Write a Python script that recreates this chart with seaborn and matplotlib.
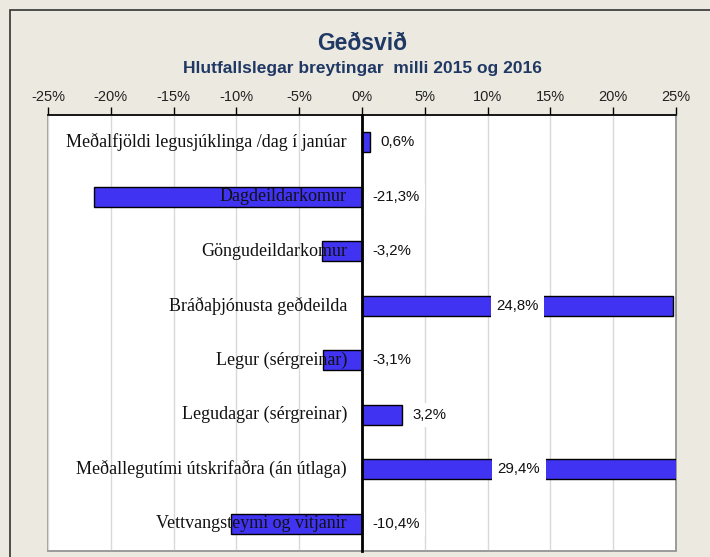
import matplotlib
matplotlib.use("Agg")
import matplotlib.pyplot as plt
from matplotlib.patches import Rectangle
import seaborn as sns
import pandas as pd

# Data: relative change 2015 -> 2016, percent
categories = [
    "Meðalfjöldi legusjúklinga /dag í janúar",
    "Dagdeildarkomur",
    "Göngudeildarkomur",
    "Bráðaþjónusta geðdeilda",
    "Legur (sérgreinar)",
    "Legudagar (sérgreinar)",
    "Meðallegutími útskrifaðra (án útlaga)",
    "Vettvangsteymi og vitjanir",
]
values = [0.6, -21.3, -3.2, 24.8, -3.1, 3.2, 29.4, -10.4]
x_ticks = [-25, -20, -15, -10, -5, 0, 5, 10, 15, 20, 25]
x_tick_labels = [f"{t}%" for t in x_ticks]

title = "Geðsvið"
subtitle = "Hlutfallslegar breytingar  milli 2015 og 2016"

df = pd.DataFrame({"flokkur": categories, "breyting": values})

sns.set_style("white")
plt.rcParams["font.family"] = ["Liberation Sans", "DejaVu Sans"]

BG = "#ECE9E0"
BAR = "#4033F2"
NAVY = "#1F3864"

fig = plt.figure(figsize=(7.10, 5.57), dpi=100, facecolor=BG)
ax = fig.add_axes([48 / 710, 1 - 551 / 557, (676 - 48) / 710, (551 - 115) / 557])
ax.set_facecolor("white")

sns.barplot(data=df, x="breyting", y="flokkur", orient="h", color=BAR,
            saturation=1, width=0.37, edgecolor="black", linewidth=1.0,
            ax=ax, zorder=3)

ax.set_xlim(-25, 25)
ax.set_ylim(len(categories) - 0.5, -0.5)
ax.set_xlabel("")
ax.set_ylabel("")

# top axis with percent ticks
ax.xaxis.tick_top()
ax.set_xticks(x_ticks)
ax.set_xticklabels(x_tick_labels, fontsize=10.5, color="#222222")
ax.tick_params(axis="x", direction="out", length=6, width=1, color="black", pad=2)
for t in x_ticks:
    ax.axvline(t, color="#D9D9D9", lw=1, zorder=1)

# vertical zero axis with ticks between categories
ax.spines["left"].set_position(("data", 0))
ax.spines["left"].set_color("black")
ax.spines["left"].set_linewidth(2)
ax.spines["left"].set_zorder(5)
bounds = [i - 0.5 for i in range(len(categories) + 1)]
ax.set_yticks(bounds)
ax.set_yticklabels([""] * len(bounds))
ax.tick_params(axis="y", direction="out", length=5, width=2, color="black")

ax.spines["top"].set_color("black")
ax.spines["top"].set_linewidth(1.2)
for s in ("right", "bottom"):
    ax.spines[s].set_color("#9A9A9A")
    ax.spines[s].set_linewidth(1.2)
# left frame of the plot area
ax.add_patch(Rectangle((0, 0), 1, 1, transform=ax.transAxes, fill=False,
                       edgecolor="#9A9A9A", lw=1.2, zorder=0.5, clip_on=False))

# category labels beside the zero axis
for i, cat in enumerate(categories):
    ax.text(-1.2, i, cat, ha="right", va="center", fontsize=13,
            family=["Liberation Serif", "DejaVu Serif"], color="#111111", zorder=6)

# value labels
for i, v in enumerate(values):
    lab = f"{v:.1f}".replace(".", ",") + "%"
    if v > 20:
        xpos, ha = min(v, 25) / 2, "center"
    else:
        xpos, ha = max(v, 0) + 0.85, "left"
    ax.text(xpos, i, lab, ha=ha, va="center", fontsize=10.8, color="#111111",
            zorder=6, bbox=dict(boxstyle="square,pad=0.35", fc="white", ec="none"))

fig.text(0.51, 1 - 43 / 557, title, ha="center", va="center", fontsize=16.5,
         fontweight="bold", color=NAVY)
fig.text(0.51, 1 - 68 / 557, subtitle, ha="center", va="center", fontsize=12.5,
         fontweight="bold", color=NAVY)

# outer chart frame
fig.add_artist(Rectangle((9.5 / 710, -0.1), 1.2, 1.1 - 9.5 / 557,
                         transform=fig.transFigure, fill=False,
                         edgecolor="#333333", lw=1.2))

fig.savefig("out.png", dpi=100, facecolor=BG)
